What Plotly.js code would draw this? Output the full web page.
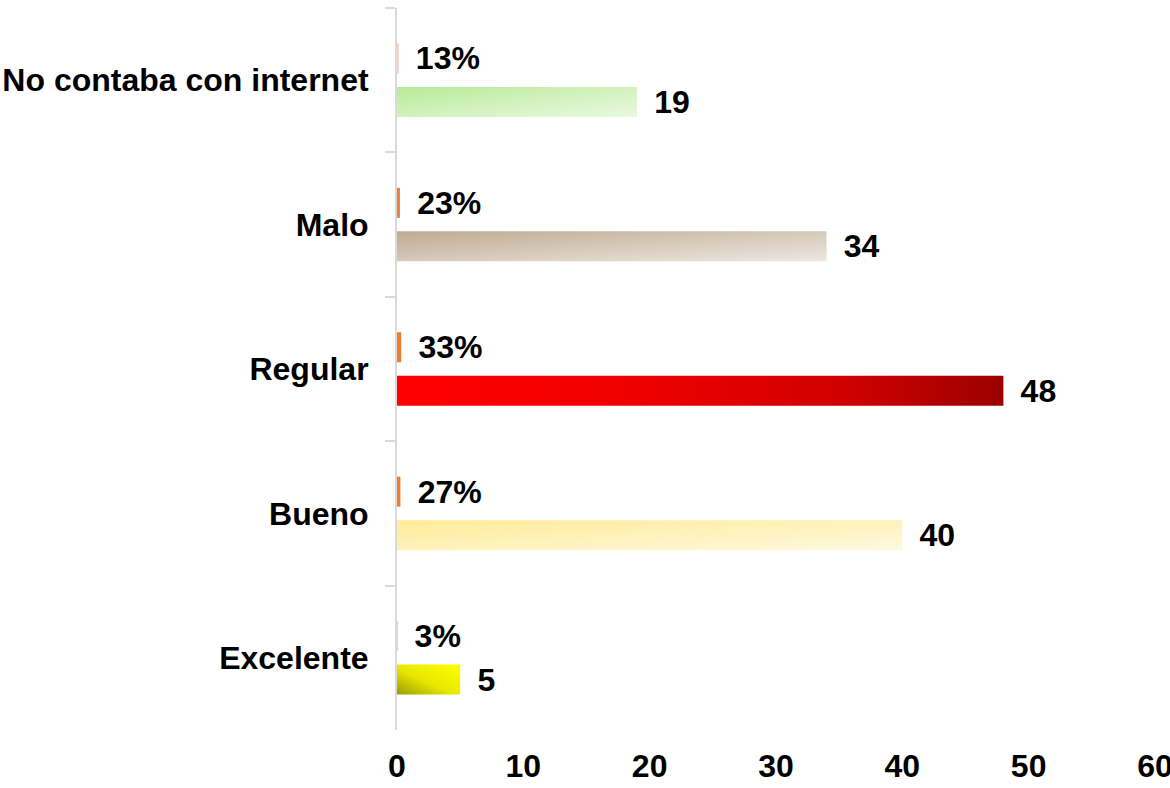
<!DOCTYPE html>
<html>
<head>
<meta charset="utf-8">
<script src="https://cdn.plot.ly/plotly-3.0.1.min.js"></script>
<style>
html,body{margin:0;padding:0;background:#fff;}
#chart{width:1170px;height:788px;}
</style>
</head>
<body>
<div id="chart"></div>
<script>
// ---- data ----
var categories = ["No contaba con internet", "Malo", "Regular", "Bueno", "Excelente"];
var counts = [19, 34, 48, 40, 5];
var shares = [0.13, 0.23, 0.33, 0.27, 0.03];
var xTickValues = [0, 10, 20, 30, 40, 50, 60];

// ---- styles ----
var shareColors = ['#f8cbad', '#ed7d31', '#ed7d31', '#ed7d31', '#ed7d31'];
var countColors = ['#d3f3c2', '#d6cbbd', '#d40000', '#fff1b9', '#e6e600'];
var gradients = [
  {x1: 0, y1: 0, x2: 1, y2: 1, stops: [[0, '#b8ea98'], [1, '#eaf9e2']]},
  {x1: 0, y1: 0, x2: 1, y2: 1, stops: [[0, '#bfab91'], [1, '#ece7e1']]},
  {x1: 0, y1: 0, x2: 1, y2: 0, stops: [[0, '#ff0000'], [0.35, '#f20000'], [0.75, '#cf0000'], [1, '#9c0000']]},
  {x1: 0, y1: 0, x2: 1, y2: 1, stops: [[0, '#ffeb97'], [1, '#fff8df']]},
  {x1: 0, y1: 1, x2: 1, y2: 0, stops: [[0, '#9a9a00'], [0.45, '#e8e800'], [1, '#ffff00']]}
];

var fontFam = '"Liberation Sans", Arial, sans-serif';
var fontSize = 32;
var pad = '\u00a0\u2006';

var data = [
  {
    type: 'bar', orientation: 'h',
    y: categories, x: shares,
    marker: {color: shareColors, line: {width: 0}},
    texttemplate: pad + '%{x:.0%}',
    textposition: 'outside',
    constraintext: 'none',
    cliponaxis: false,
    textfont: {family: fontFam, size: fontSize, color: '#000', weight: 'bold'},
    hoverinfo: 'skip'
  },
  {
    type: 'bar', orientation: 'h',
    y: categories, x: counts,
    marker: {color: countColors, line: {width: 0}},
    texttemplate: pad + '%{x}',
    textposition: 'outside',
    constraintext: 'none',
    cliponaxis: false,
    textfont: {family: fontFam, size: fontSize, color: '#000', weight: 'bold'},
    hoverinfo: 'skip'
  }
];

var layout = {
  width: 1170, height: 788,
  margin: {l: 397, r: 15, t: 8, b: 58, pad: 0},
  paper_bgcolor: '#fff', plot_bgcolor: '#fff',
  showlegend: false,
  barmode: 'group',
  bargap: 0.3975,
  bargroupgap: 0.31,
  font: {family: fontFam, color: '#000'},
  xaxis: {
    range: [0, 60],
    tickvals: xTickValues,
    ticktext: xTickValues.map(String),
    showgrid: false, zeroline: false, showline: false,
    ticks: '',
    ticklabeloverflow: 'allow',
    ticklabelstandoff: 14,
    tickfont: {family: fontFam, size: fontSize, color: '#000', weight: 'bold'}
  },
  yaxis: {
    type: 'category',
    autorange: 'reversed',
    showgrid: false, zeroline: false,
    showline: true, linecolor: '#d9d9d9', linewidth: 2,
    ticks: 'outside', ticklen: 10, tickwidth: 2, tickcolor: '#d9d9d9',
    tickson: 'boundaries',
    ticklabelstandoff: 20,
    tickfont: {family: fontFam, size: fontSize, color: '#000', weight: 'bold'}
  }
};

function applyGradients(gd) {
  var ns = 'http://www.w3.org/2000/svg';
  var svg = gd.querySelector('svg.main-svg');
  var defs = svg.querySelector('defs');
  if (!defs) { defs = document.createElementNS(ns, 'defs'); svg.insertBefore(defs, svg.firstChild); }
  gradients.forEach(function (g, i) {
    var id = 'countgrad' + i;
    if (document.getElementById(id)) return;
    var lg = document.createElementNS(ns, 'linearGradient');
    lg.setAttribute('id', id);
    lg.setAttribute('x1', g.x1); lg.setAttribute('y1', g.y1);
    lg.setAttribute('x2', g.x2); lg.setAttribute('y2', g.y2);
    g.stops.forEach(function (s) {
      var st = document.createElementNS(ns, 'stop');
      st.setAttribute('offset', s[0]);
      st.setAttribute('stop-color', s[1]);
      lg.appendChild(st);
    });
    defs.appendChild(lg);
  });
  var traces = gd.querySelectorAll('.barlayer .trace');
  if (traces.length > 1) {
    var paths = traces[1].querySelectorAll('.point path');
    paths.forEach(function (p, i) { p.style.fill = 'url(#countgrad' + i + ')'; });
  }
}

Plotly.newPlot('chart', data, layout, {staticPlot: true, displayModeBar: false}).then(applyGradients);
</script>
</body>
</html>
